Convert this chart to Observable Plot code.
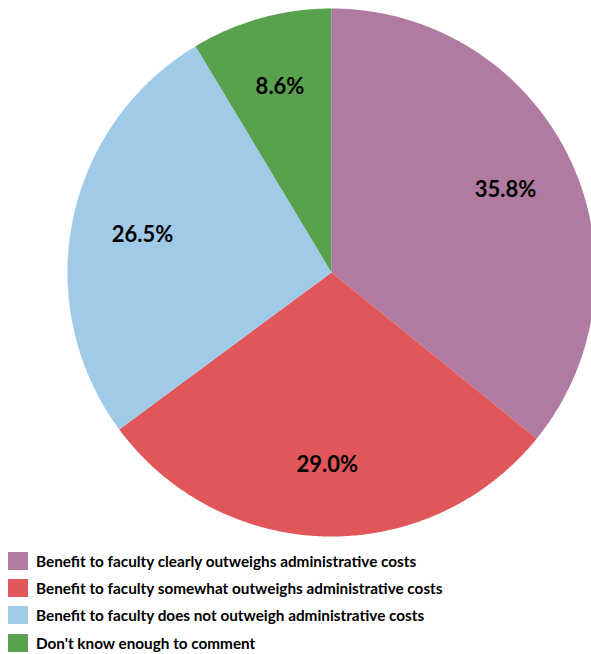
<!DOCTYPE html>
<html><head><meta charset="utf-8">
<script src="https://cdn.jsdelivr.net/npm/d3@7"></script>
<script src="https://cdn.jsdelivr.net/npm/@observablehq/plot@0.6"></script>
<style>
body{margin:0;background:#fff;overflow:hidden;font-family:Lato,"Open Sans",sans-serif;}
#chart svg{display:block;}
.row{display:flex;align-items:center;height:27.3px;}
.sw{width:20px;height:18px;margin-left:8px;margin-right:8px;flex:none;}
.lab{font-weight:bold;font-size:15.3px;color:#000;white-space:nowrap;}
</style></head><body><div id="chart"></div><div id="legend"></div>
<script>
const categories = [
  "Benefit to faculty clearly outweighs administrative costs",
  "Benefit to faculty somewhat outweighs administrative costs",
  "Benefit to faculty does not outweigh administrative costs",
  "Don't know enough to comment"
];
const shares = [35.8, 29.0, 26.5, 8.6];
const valueLabels = ["35.8%", "29.0%", "26.5%", "8.6%"];
const colors = ["#B07AA1", "#E15759", "#A0CBE8", "#59A14F"];

const total = d3.sum(shares);
const labelR = 0.73;
const pts = [];
const labs = [];
let acc = 0;
categories.forEach((c, i) => {
  const a0 = acc / total * 2 * Math.PI;
  acc += shares[i];
  const a1 = acc / total * 2 * Math.PI;
  pts.push({cat: c, x: 0, y: 0});
  const n = Math.max(2, Math.ceil((a1 - a0) / (Math.PI / 360)));
  for (let k = 0; k <= n; k++) {
    const a = a0 + (a1 - a0) * k / n;
    pts.push({cat: c, x: Math.sin(a), y: Math.cos(a)});
  }
  const am = (a0 + a1) / 2;
  labs.push({text: valueLabels[i], x: labelR * Math.sin(am), y: labelR * Math.cos(am)});
});

const chart = Plot.plot({
  width: 591,
  height: 547,
  margin: 0,
  x: {domain: [-1, 1], range: [67, 595], axis: null},
  y: {domain: [-1, 1], range: [536, 8], axis: null},
  color: {domain: categories, range: colors},
  style: {background: "#fff", overflow: "hidden"},
  marks: [
    Plot.line(pts, {x: "x", y: "y", z: "cat", fill: "cat", stroke: "none", curve: "linear-closed"}),
    Plot.text(labs, {x: "x", y: "y", text: "text", fill: "#000", fontSize: 22, fontWeight: "bold", fontFamily: "Lato, 'Open Sans', sans-serif"})
  ]
});
document.getElementById("chart").appendChild(chart);

const leg = document.getElementById("legend");
categories.forEach((c, i) => {
  const r = document.createElement("div"); r.className = "row";
  const s = document.createElement("div"); s.className = "sw"; s.style.background = colors[i];
  const t = document.createElement("div"); t.className = "lab"; t.textContent = c;
  r.appendChild(s); r.appendChild(t); leg.appendChild(r);
});
</script>
</body></html>
